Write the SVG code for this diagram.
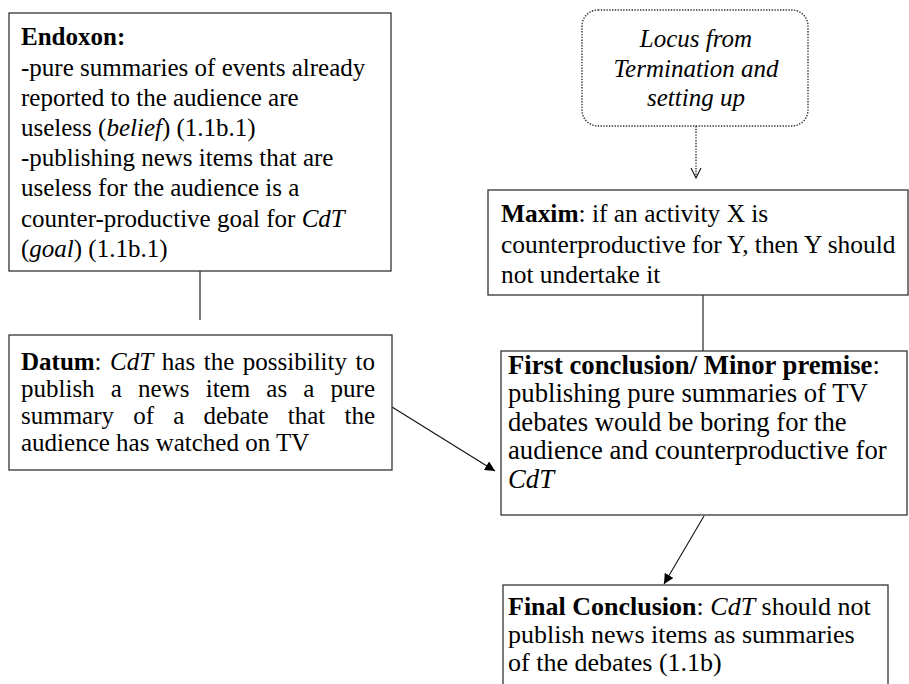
<svg xmlns="http://www.w3.org/2000/svg" width="909" height="684" viewBox="0 0 909 684">
  <style>
    text { font-family: "Liberation Serif", "Times New Roman", serif; font-size: 25px; fill: #000; }
    .b { font-weight: bold; }
    .i { font-style: italic; }
    .box { fill: #fff; stroke: #333; stroke-width: 1.3; }
    .locus { fill: #fff; stroke: #333; stroke-width: 1.4; stroke-dasharray: 1.4 1.4; }
    .link { fill: none; stroke: #111; stroke-width: 1.1; }
    .dotted { fill: none; stroke: #333; stroke-width: 1.4; stroke-dasharray: 1.4 1.4; }
    #maxim text { font-size: 25.4px; }
    #first-conclusion text { font-size: 26.7px; }
    #final-conclusion text { font-size: 26px; }
  </style>
  <defs>
    <marker id="arrow" viewBox="0 0 10 10" refX="10" refY="5" markerWidth="10" markerHeight="10" markerUnits="userSpaceOnUse" orient="auto">
      <path d="M0,0 L10,5 L0,10 Z" fill="#000"/>
    </marker>
  </defs>

  <rect width="909" height="684" fill="#fff"/>

  <!-- connectors -->
  <g id="connectors">
    <line class="link" x1="200" y1="271" x2="200" y2="320"/>
    <line class="dotted" x1="696" y1="126" x2="696" y2="177"/>
    <polyline class="link" points="691,168 696,178 701,168" stroke="#333"/>
    <line class="link" x1="703" y1="295" x2="703" y2="351"/>
    <line class="link" x1="392" y1="407" x2="495" y2="471" marker-end="url(#arrow)"/>
    <line class="link" x1="704" y1="516" x2="664" y2="584" marker-end="url(#arrow)"/>
  </g>

  <!-- Endoxon -->
  <g id="endoxon">
    <rect class="box" x="9" y="13" width="382" height="258"/>
    <text x="21" y="45" class="b">Endoxon:</text>
    <text x="21" y="76">-pure summaries of events already</text>
    <text x="21" y="106">reported to the audience are</text>
    <text x="21" y="136">useless (<tspan class="i">belief</tspan>) (1.1b.1)</text>
    <text x="21" y="166">-publishing news items that are</text>
    <text x="21" y="196">useless for the audience is a</text>
    <text x="21" y="227">counter-productive goal for <tspan class="i">CdT</tspan></text>
    <text x="21" y="257">(<tspan class="i">goal</tspan>) (1.1b.1)</text>
  </g>

  <!-- Locus -->
  <g id="locus">
    <rect class="locus" x="582" y="10" width="226" height="116" rx="16" ry="16"/>
    <text x="696" y="47" class="i" text-anchor="middle">Locus from</text>
    <text x="696" y="77" class="i" text-anchor="middle">Termination and</text>
    <text x="696" y="106" class="i" text-anchor="middle">setting up</text>
  </g>

  <!-- Maxim -->
  <g id="maxim">
    <rect class="box" x="488" y="190" width="420" height="105"/>
    <text x="501" y="222"><tspan class="b">Maxim</tspan>: if an activity X is</text>
    <text x="501" y="253">counterproductive for Y, then Y should</text>
    <text x="501" y="283">not undertake it</text>
  </g>

  <!-- Datum (justified lines) -->
  <g id="datum">
    <rect class="box" x="9" y="335" width="383" height="135"/>
    <text y="370"><tspan x="21" class="b">Datum</tspan><tspan>:</tspan><tspan x="110.1" class="i">CdT</tspan><tspan x="161.8">has</tspan><tspan x="203.7">the</tspan><tspan x="242.8">possibility</tspan><tspan x="375" text-anchor="end">to</tspan></text>
    <text y="397"><tspan x="21">publish</tspan><tspan x="110.8">a</tspan><tspan x="138.1">news</tspan><tspan x="205.7">item</tspan><tspan x="266.3">as</tspan><tspan x="303.3">a</tspan><tspan x="375" text-anchor="end">pure</tspan></text>
    <text y="424"><tspan x="21">summary</tspan><tspan x="133.2">of</tspan><tspan x="173.15">a</tspan><tspan x="203.4">debate</tspan><tspan x="287.8">that</tspan><tspan x="375" text-anchor="end">the</tspan></text>
    <text x="21" y="451">audience has watched on TV</text>
  </g>

  <!-- First conclusion / Minor premise -->
  <g id="first-conclusion">
    <rect class="box" x="501" y="351" width="406" height="164"/>
    <text x="508" y="374"><tspan class="b">First conclusion/ Minor premise</tspan>:</text>
    <text x="508" y="402">publishing pure summaries of TV</text>
    <text x="508" y="430.5">debates would be boring for the</text>
    <text x="508" y="459">audience and counterproductive for</text>
    <text x="508" y="487.5" class="i">CdT</text>
  </g>

  <!-- Final conclusion -->
  <g id="final-conclusion">
    <rect class="box" x="503" y="585" width="385" height="110"/>
    <text x="508" y="615"><tspan class="b">Final Conclusion</tspan>: <tspan class="i">CdT</tspan> should not</text>
    <text x="508" y="643">publish news items as summaries</text>
    <text x="508" y="670.5">of the debates (1.1b)</text>
  </g>
</svg>
